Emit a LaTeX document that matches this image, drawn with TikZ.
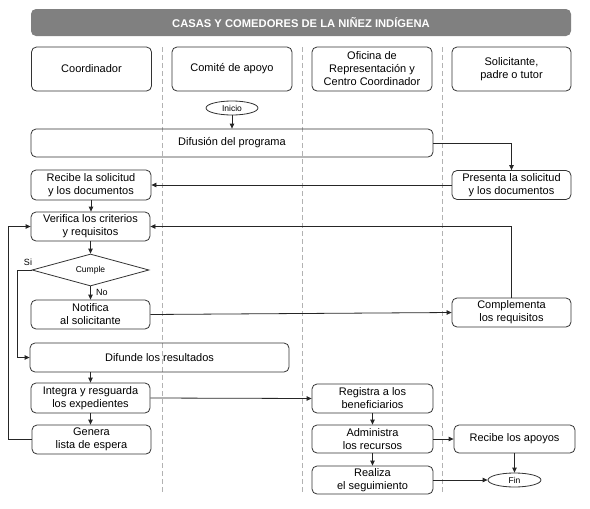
\documentclass[tikz,border=0pt]{standalone}
\usepackage{fontspec}
\setmainfont{Liberation Sans}
\usetikzlibrary{arrows.meta,shapes.geometric}
\tikzset{
  box/.style={draw=black!80, line width=0.8pt, rounded corners=5pt, align=center, inner sep=0pt,
     font=\fontsize{11}{13}\selectfont},
  hdr/.style={box, minimum width=120pt, minimum height=44pt},
  term/.style={draw=black!80, line width=0.8pt, ellipse, inner sep=0pt, font=\fontsize{8.5}{10}\selectfont},
  arr/.style={draw=black!85, line width=0.8pt, -{Triangle[length=5pt,width=4.5pt]}},
  ln/.style={draw=black!85, line width=0.8pt},
  lane/.style={draw=black!30, line width=0.7pt, dash pattern=on 5pt off 3pt},
  lbl/.style={font=\fontsize{9}{10}\selectfont, inner sep=0pt}
}
\begin{document}
\begin{tikzpicture}[x=1pt,y=-1pt]
\useasboundingbox (0,0) rectangle (590,509);
% lanes
\draw[lane] (162,47) -- (162,493);
\draw[lane] (302,47) -- (302,493);
\draw[lane] (442,47) -- (442,493);
% title
\node[fill=black!50, rounded corners=5pt, minimum width=540pt, minimum height=27pt, inner sep=0pt,
      text=white, font=\fontsize{11.2}{12}\bfseries] (title) at (301,22.5) {CASAS Y COMEDORES DE LA NIÑEZ INDÍGENA};
% headers
\node[hdr] (h1) at (91.5,69) {Coordinador};
\node[hdr] (h2) at (232,69) {Comité de apoyo};
\node[hdr] (h3) at (372,69) {Oficina de\\Representación y\\Centro Coordinador};
\node[hdr, minimum width=119pt] (h4) at (511.5,69) {Solicitante,\\padre o tutor};
% flow nodes
\node[term, minimum width=52pt, minimum height=14pt] (ini) at (232,108) {Inicio};
\node[box, minimum width=402pt, minimum height=28pt] (difp) at (232,143) {Difusión del programa};
\node[box, minimum width=120pt, minimum height=30pt] (rec) at (91,185) {Recibe la solicitud\\y los documentos};
\node[box, minimum width=119pt, minimum height=29pt] (pres) at (511.5,185) {Presenta la solicitud\\y los documentos};
\node[box, minimum width=119pt, minimum height=29pt] (ver) at (90.5,226.5) {Verifica los criterios\\y requisitos};
\node[draw=black!80, line width=0.8pt, diamond, aspect=3.6, minimum width=117pt, minimum height=32pt, inner sep=0pt,
      font=\fontsize{8.5}{10}\selectfont] (cum) at (90.5,270) {Cumple};
\node[box, minimum width=119pt, minimum height=29pt] (not) at (90.5,314.5) {Notifica\\al solicitante};
\node[box, minimum width=119pt, minimum height=29pt] (comp) at (511.5,312.5) {Complementa\\los requisitos};
\node[box, minimum width=259pt, minimum height=29pt] (difr) at (159.5,357.5) {Difunde los resultados};
\node[box, minimum width=119pt, minimum height=30pt] (int) at (90.5,398) {Integra y resguarda\\los expedientes};
\node[box, minimum width=119pt, minimum height=29pt] (gen) at (91.5,439.5) {Genera\\lista de espera};
\node[box, minimum width=121pt, minimum height=29pt] (reg) at (372.5,398.5) {Registra a los\\beneficiarios};
\node[box, minimum width=121pt, minimum height=28pt] (adm) at (372.5,439) {Administra\\los recursos};
\node[box, minimum width=121pt, minimum height=28pt] (rap) at (514.5,439) {Recibe los apoyos};
\node[box, minimum width=121pt, minimum height=28pt] (rea) at (372.5,480) {Realiza\\el seguimiento};
\node[term, minimum width=53pt, minimum height=14pt] (fin) at (514.5,480) {Fin};
% labels
\node[lbl] (si) at (28,262.5) {Si};
\node[lbl, anchor=west] (no) at (96,292) {No};
% connectors
\draw[arr] (ini.south) -- (ini.south |- difp.north);
\draw[arr] (difp.east) -| (pres.north);
\draw[arr] (pres.west) -- (rec.east);
\draw[arr] (rec.south) -- (rec.south |- ver.north);
\draw[arr] (ver.south) -- (ver.south |- cum.north);
\draw[arr] (comp.north) |- (ver.east);
\draw[arr] (cum.south) -- (cum.south |- not.north);
\draw[arr] (cum.west) -- ++(-14,0) |- (difr.west);
\draw[arr] (not.east) -- (comp.west);
\draw[arr] (int.north |- difr.south) -- (int.north);
\draw[arr] (int.south) -- (int.south |- gen.north);
\draw[arr] (int.east) -- (reg.west);
\draw[arr] (gen.west) -- ++(-23,0) |- (ver.west);
\draw[arr] (reg.south) -- (reg.south |- adm.north);
\draw[arr] (adm.south) -- (adm.south |- rea.north);
\draw[arr] (adm.east) -- (rap.west);
\draw[arr] (rap.south) -- (fin.north);
\draw[arr] (rea.east) -- (fin.west);
\end{tikzpicture}
\end{document}
